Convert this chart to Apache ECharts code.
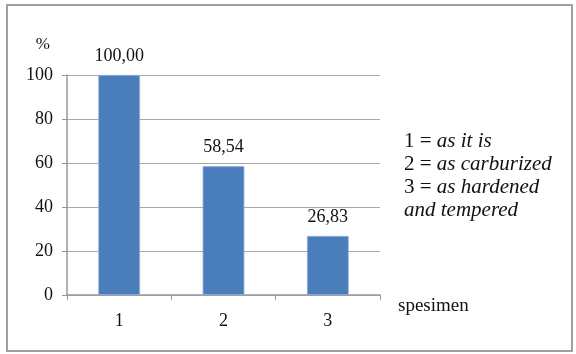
<!DOCTYPE html>
<html>
<head>
<meta charset="utf-8">
<script src="https://cdn.jsdelivr.net/npm/echarts@6/dist/echarts.min.js"></script>
<style>
  html, body { margin: 0; padding: 0; background: #fff; }
  #chart { width: 576px; height: 354px; }
</style>
</head>
<body>
<div id="chart"></div>
<script>
// data
const categories = ['1', '2', '3'];
const values = [100.00, 58.54, 26.83];
const valueLabels = ['100,00', '58,54', '26,83'];
const legendLines = [
  ['1 = ', 'as it is'],
  ['2 = ', 'as carburized'],
  ['3 = ', 'as hardened'],
  ['', 'and tempered'],
];

const font = '"Liberation Serif", "Times New Roman", serif';
const chart = echarts.init(document.getElementById('chart'));

chart.setOption({
  animation: false,
  textStyle: { fontFamily: font },
  grid: { left: 67, right: 196, top: 75, bottom: 59 },
  xAxis: {
    type: 'category',
    data: categories,
    name: 'spesimen',
    nameLocation: 'end',
    nameGap: 18,
    nameTextStyle: { color: '#111', fontSize: 19, fontFamily: font, verticalAlign: 'top', padding: [2, 0, 0, 0] },
    axisLine: { lineStyle: { color: '#999', width: 1.5 } },
    axisTick: { show: true, length: 5, lineStyle: { color: '#999' } },
    axisLabel: { color: '#111', fontSize: 18, fontFamily: font, margin: 17 },
  },
  yAxis: {
    type: 'value',
    min: 0,
    max: 100,
    interval: 20,
    name: '%',
    nameGap: 22,
    nameTextStyle: { color: '#111', fontSize: 17, fontFamily: font, align: 'right', padding: [0, 17, 0, 0] },
    axisLine: { show: true, lineStyle: { color: '#999', width: 1.5 } },
    axisTick: { show: true, length: 5, inside: false, lineStyle: { color: '#999' } },
    axisLabel: { color: '#111', fontSize: 18, fontFamily: font, margin: 14 },
    splitLine: { lineStyle: { color: '#a8a8a8', width: 1 } },
  },
  series: [{
    type: 'bar',
    data: values,
    barWidth: '40%',
    itemStyle: { color: '#4a7ebb', borderColor: '#8fb0dc', borderWidth: 0.8 },
    label: {
      show: true,
      position: 'top',
      distance: 10,
      color: '#111',
      fontSize: 18,
      fontFamily: font,
      formatter: p => valueLabels[p.dataIndex],
    },
  }],
  graphic: [
    {
      type: 'rect',
      shape: { x: 7, y: 5, width: 565, height: 346 },
      style: { fill: 'none', stroke: '#a0a0a0', lineWidth: 2 },
      silent: true,
    },
    {
      type: 'text',
      left: 404,
      top: 130,
      style: {
        text: legendLines.map(l => (l[0] ? '{n|' + l[0] + '}' : '') + '{i|' + l[1] + '}').join('\n'),
        font: '21px "Liberation Serif", serif',
        fill: '#111',
        lineHeight: 23,
        rich: {
          n: { font: '21px "Liberation Serif", serif', lineHeight: 23 },
          i: { font: 'italic 21px "Liberation Serif", serif', lineHeight: 23 },
        },
      },
    },
  ],
});
</script>
</body>
</html>
